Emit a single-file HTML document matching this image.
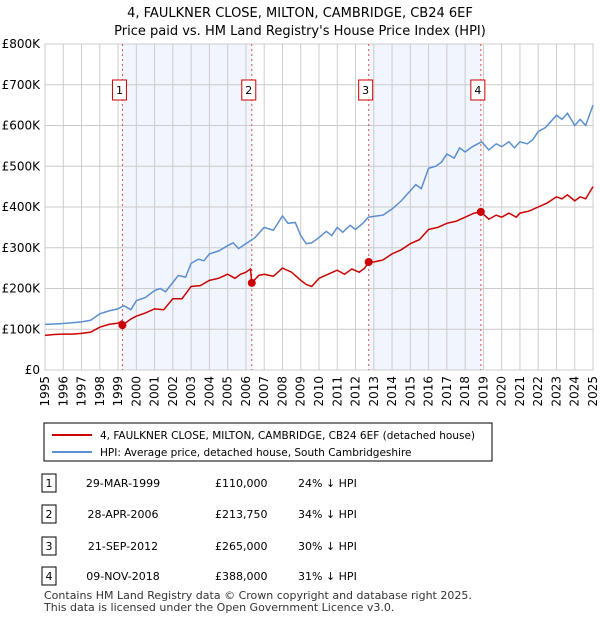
<!DOCTYPE html>
<html><head><meta charset="utf-8"><style>
body{margin:0;background:#fff;font-family:"Liberation Sans","DejaVu Sans",sans-serif;}
svg text{font-family:"DejaVu Sans","Liberation Sans",sans-serif;}
</style></head><body>
<svg id="c" width="600" height="620" xmlns="http://www.w3.org/2000/svg">
<text x="300" y="17" text-anchor="middle" font-size="13">4, FAULKNER CLOSE, MILTON, CAMBRIDGE, CB24 6EF</text>
<text x="300" y="35" text-anchor="middle" font-size="13">Price paid vs. HM Land Registry's House Price Index (HPI)</text>
<g id="plot"></g>
<rect x="44" y="423" width="448" height="38" fill="#fff" stroke="#000"/>
<line x1="52" y1="435" x2="92" y2="435" stroke="#cc0000" stroke-width="2"/>
<text x="100" y="439" font-size="10.5">4, FAULKNER CLOSE, MILTON, CAMBRIDGE, CB24 6EF (detached house)</text>
<line x1="52" y1="452" x2="92" y2="452" stroke="#5b8fd0" stroke-width="2"/>
<text x="100" y="456" font-size="10.5">HPI: Average price, detached house, South Cambridgeshire</text>
<g id="tbl" font-size="11"></g>
<text x="44" y="599" font-size="11" fill="#333">Contains HM Land Registry data © Crown copyright and database right 2025.</text>
<text x="44" y="611" font-size="11" fill="#333">This data is licensed under the Open Government Licence v3.0.</text>
</svg>
<script>
const yTicks=[0,100,200,300,400,500,600,700,800];
const yLabels=["£0","£100K","£200K","£300K","£400K","£500K","£600K","£700K","£800K"];
const years=[1995,1996,1997,1998,1999,2000,2001,2002,2003,2004,2005,2006,2007,2008,2009,2010,2011,2012,2013,2014,2015,2016,2017,2018,2019,2020,2021,2022,2023,2024,2025];
const hpiT=[1995,1995.5,1996,1996.5,1997,1997.5,1998,1998.5,1999,1999.3,1999.7,2000,2000.5,2001,2001.3,2001.6,2002,2002.3,2002.7,2003,2003.4,2003.7,2004,2004.5,2005,2005.3,2005.6,2006,2006.5,2007,2007.5,2008,2008.3,2008.7,2009,2009.3,2009.6,2010,2010.4,2010.7,2011,2011.3,2011.7,2012,2012.4,2012.7,2013,2013.5,2014,2014.5,2015,2015.3,2015.6,2016,2016.4,2016.7,2017,2017.4,2017.7,2018,2018.4,2018.9,2019.3,2019.7,2020,2020.4,2020.7,2021,2021.4,2021.7,2022,2022.4,2022.7,2023,2023.3,2023.6,2024,2024.3,2024.6,2025];
const hpiV=[112,113,114,116,118,122,138,145,150,158,148,170,178,195,200,192,215,232,228,262,272,268,285,292,305,312,298,310,325,350,343,378,360,362,330,310,312,325,340,330,350,338,355,345,360,375,377,380,395,415,440,455,445,495,500,510,530,520,545,535,548,560,540,555,548,560,545,560,555,565,585,595,610,625,615,630,600,615,600,650];
const ppT=[1995,1995.5,1996,1996.5,1997,1997.5,1998,1998.5,1999,1999.2,1999.24,1999.7,2000,2000.5,2001,2001.5,2002,2002.5,2003,2003.5,2004,2004.5,2005,2005.4,2005.7,2006,2006.25,2006.32,2006.7,2007,2007.5,2008,2008.5,2009,2009.3,2009.6,2010,2010.5,2011,2011.4,2011.8,2012.2,2012.5,2012.72,2013,2013.5,2014,2014.5,2015,2015.5,2016,2016.5,2017,2017.5,2018,2018.5,2018.86,2019.3,2019.7,2020,2020.4,2020.8,2021,2021.5,2022,2022.5,2023,2023.3,2023.6,2024,2024.3,2024.6,2025];
const ppV=[85,87,88,88,90,93,105,112,115,120,110,125,132,140,150,148,175,175,205,207,220,225,235,225,235,240,248,213.75,232,235,230,250,240,220,210,205,225,235,245,235,248,240,250,265,265,270,285,295,310,320,345,350,360,365,375,385,388,370,380,375,385,375,385,390,400,410,425,420,430,415,425,420,450];
const saleT=[1999.24,2006.32,2012.72,2018.86];
const saleV=[110,213.75,265,388];
const saleLbl=["1","2","3","4"];
const dates=["29-MAR-1999","28-APR-2006","21-SEP-2012","09-NOV-2018"];
const prices=["£110,000","£213,750","£265,000","£388,000"];
const pcts=["24% ↓ HPI","34% ↓ HPI","30% ↓ HPI","31% ↓ HPI"];
const X0=45,X1=593,Y0=370,Y1=44;
const xs=t=>X0+(t-1995)/30*(X1-X0);
const ys=v=>Y0-v/800*(Y0-Y1);
const NS="http://www.w3.org/2000/svg";
const g=document.getElementById('plot');
function mk(tag,at,par){const e=document.createElementNS(NS,tag);for(const k in at)e.setAttribute(k,at[k]);(par||g).appendChild(e);return e;}
for(let i=0;i<4;i+=2){const r=mk('rect',{x:xs(saleT[i]),y:Y1,width:xs(saleT[i+1])-xs(saleT[i]),height:Y0-Y1,fill:'#eef3fc',opacity:0.8});

}
years.forEach(y=>{const l=mk('line',{x1:xs(y),x2:xs(y),y1:Y1,y2:Y0,stroke:'#cccccc'});


const t=mk('text',{x:0,y:0,'font-size':12,'text-anchor':'end',transform:`translate(${xs(y)+4},376) rotate(-90)`});t.textContent=y;

});
yTicks.forEach((v,i)=>{const l=mk('line',{x1:X0,x2:X1,y1:ys(v),y2:ys(v),stroke:'#cccccc'});


const t=mk('text',{x:40,y:ys(v)+4,'font-size':12,'text-anchor':'end'});t.textContent=yLabels[i];

});
mk('rect',{x:X0,y:Y1,width:X1-X0,height:Y0-Y1,fill:'none',stroke:'#cccccc'});
saleT.forEach((t,i)=>{const l=mk('line',{x1:xs(t),x2:xs(t),y1:Y1,y2:Y0,stroke:'#e05050','stroke-dasharray':'2,3'});


const b=mk('rect',{x:xs(t)-10,y:80,width:14,height:20,fill:'#fff',stroke:'#cc0000'});


const tx=mk('text',{x:xs(t)-3,y:94,'font-size':11,'text-anchor':'middle'});tx.textContent=saleLbl[i];

});
const ph=mk('polyline',{points:hpiT.map((t,i)=>xs(t)+','+ys(hpiV[i])).join(' '),fill:'none',stroke:'#5b8fd0','stroke-width':1.5});


const pp=mk('polyline',{points:ppT.map((t,i)=>xs(t)+','+ys(ppV[i])).join(' '),fill:'none',stroke:'#cc0000','stroke-width':1.5});


saleT.forEach((t,i)=>{const c=mk('circle',{cx:xs(t),cy:ys(saleV[i]),r:4,fill:'#cc0000'});

});
const tb=document.getElementById('tbl');
const rowY=[483,514,546,576];
rowY.forEach((y,i)=>{const b=mk('rect',{x:42,y:y-9,width:14,height:18,fill:'#fff',stroke:'#000'},tb);


const vals=[[49,saleLbl[i],'middle'],[123,dates[i],'middle'],[215,prices[i],'start'],[298,pcts[i],'start']];
vals.forEach(v=>{const t=mk('text',{x:v[0],y:y+4,'text-anchor':v[2]},tb);t.textContent=v[1];

});});
</script>
</body></html>
